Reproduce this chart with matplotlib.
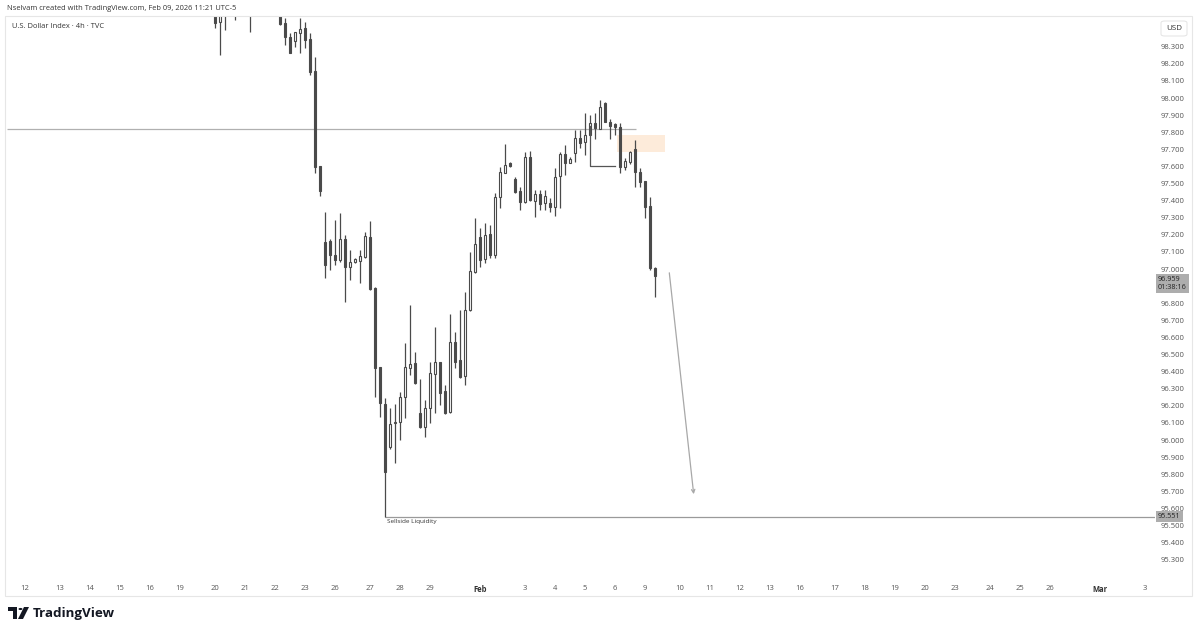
import matplotlib
matplotlib.use("Agg")
import matplotlib.pyplot as plt
from matplotlib.patches import Rectangle, FancyBboxPatch, Polygon, Circle
from matplotlib.transforms import blended_transform_factory
import numpy as np

plt.rcParams['font.family'] = ['Open Sans', 'DejaVu Sans']

# ---------------- data (4h candles, U.S. Dollar Index) ----------------
first_bar = 42
opens = [98.515, 98.444, 98.544, 98.58, 98.60, 98.57, 98.60, 98.58, 98.55, 98.60,
         98.64, 98.62, 98.58, 98.53, 98.439, 98.357, 98.333, 98.380, 98.409, 98.345,
         98.158, 97.602, 97.158, 97.164, 97.082, 97.053, 97.175, 97.012, 97.041, 97.047,
         97.070, 97.187, 96.889, 96.427, 96.211, 95.959, 96.099, 96.105, 96.251, 96.421,
         96.450, 96.158, 96.076, 96.187, 96.386, 96.456, 96.287, 96.164, 96.573, 96.468,
         96.374, 96.760, 96.982, 97.187, 97.058, 97.205, 97.082, 97.421, 97.561, 97.620,
         97.526, 97.456, 97.392, 97.655, 97.398, 97.439, 97.386, 97.386, 97.363, 97.544,
         97.673, 97.620, 97.678, 97.766, 97.743, 97.784, 97.854, 97.819, 97.971, 97.860,
         97.848, 97.830, 97.596, 97.626, 97.702, 97.567, 97.515, 97.368, 97.006]
highs = [98.544, 98.544, 98.60, 98.65, 98.63, 98.64, 98.63, 98.62, 98.63, 98.67,
         98.68, 98.65, 98.60, 98.56, 98.468, 98.380, 98.386, 98.468, 98.444, 98.380,
         98.240, 97.602, 97.333, 97.175, 97.287, 97.327, 97.199, 97.111, 97.064, 97.111,
         97.216, 97.281, 96.895, 96.427, 96.246, 96.187, 96.211, 96.281, 96.567, 96.789,
         96.515, 96.357, 96.234, 96.456, 96.661, 96.456, 96.322, 96.737, 96.632, 96.760,
         96.865, 97.099, 97.298, 97.240, 97.269, 97.257, 97.444, 97.596, 97.731, 97.626,
         97.538, 97.480, 97.684, 97.690, 97.462, 97.462, 97.462, 97.415, 97.591, 97.684,
         97.725, 97.655, 97.813, 97.813, 97.912, 97.901, 97.912, 97.988, 97.977, 97.877,
         97.854, 97.854, 97.649, 97.690, 97.754, 97.591, 97.515, 97.421, 97.012]
lows = [98.409, 98.251, 98.398, 98.55, 98.456, 98.53, 98.52, 98.386, 98.52, 98.57,
        98.58, 98.54, 98.50, 98.425, 98.310, 98.263, 98.298, 98.263, 98.292, 98.135,
        97.561, 97.427, 96.947, 96.994, 97.023, 97.041, 96.807, 96.936, 97.035, 96.918,
        97.064, 96.877, 96.251, 96.135, 95.551, 95.950, 95.865, 96.000, 96.129, 96.380,
        96.325, 96.070, 96.018, 96.099, 96.158, 96.205, 96.150, 96.158, 96.421, 96.365,
        96.322, 96.754, 96.977, 97.012, 97.035, 97.064, 97.064, 97.357, 97.561, 97.598,
        97.444, 97.345, 97.386, 97.400, 97.304, 97.345, 97.345, 97.333, 97.310, 97.357,
        97.550, 97.620, 97.626, 97.708, 97.667, 97.784, 97.760, 97.819, 97.860, 97.760,
        97.784, 97.561, 97.579, 97.614, 97.480, 97.480, 97.298, 96.994, 96.836]
closes = [98.439, 98.515, 98.573, 98.62, 98.57, 98.60, 98.58, 98.55, 98.60, 98.64,
          98.62, 98.58, 98.53, 98.433, 98.357, 98.263, 98.386, 98.404, 98.339, 98.152,
          97.596, 97.456, 97.023, 97.082, 97.053, 97.175, 97.012, 97.041, 97.058, 97.076,
          97.193, 96.883, 96.421, 96.216, 95.813, 96.094, 96.105, 96.251, 96.427, 96.444,
          96.333, 96.076, 96.187, 96.392, 96.456, 96.275, 96.158, 96.573, 96.456, 96.368,
          96.760, 96.988, 97.146, 97.053, 97.199, 97.082, 97.421, 97.567, 97.608, 97.602,
          97.450, 97.392, 97.655, 97.404, 97.439, 97.380, 97.427, 97.363, 97.538, 97.673,
          97.620, 97.643, 97.766, 97.737, 97.784, 97.854, 97.825, 97.947, 97.860, 97.836,
          97.830, 97.596, 97.632, 97.684, 97.567, 97.509, 97.363, 97.006, 96.959]

# date axis labels and the bar where each sits
day_labels = ['12', '13', '14', '15', '16', '19', '20', '21', '22', '23', '26', '27', '28', '29',
              'Feb', '3', '4', '5', '6', '9', '10', '11', '12', '13', '16', '17', '18', '19',
              '20', '23', '24', '25', '26', 'Mar', '3']
day_bars = [4, 11, 17, 23, 29, 35, 42, 48, 54, 60, 66, 73, 79, 85,
            95, 104, 110, 116, 122, 128, 135, 141, 147, 153, 159, 166, 172, 178,
            184, 190, 197, 203, 209, 219, 228]

price_ticks = [95.3, 95.4, 95.5, 95.6, 95.7, 95.8, 95.9, 96.0, 96.1, 96.2, 96.3, 96.4,
               96.5, 96.6, 96.7, 96.8, 97.0, 97.1, 97.2, 97.3, 97.4, 97.5, 97.6, 97.7,
               97.8, 97.9, 98.0, 98.1, 98.2, 98.3]

last_price = 96.959
countdown = '01:38:16'
liquidity_level = 95.551
resistance_level = 97.819
zone_low, zone_high = 97.684, 97.784
bracket_top, bracket_bottom = 97.836, 97.602
arrow_start, arrow_end = 96.994, 95.667

# ---------------- figure ----------------
W, H = 1200, 634
fig = plt.figure(figsize=(W / 100, H / 100), dpi=100)
fig.patch.set_facecolor('white')

def fx(px):
    return px / W

def fy(py):
    return 1 - py / H

ax = fig.add_axes([fx(7), fy(578), fx(1155) - fx(7), fy(17) - fy(578)])
ax.set_xlim(0.4, 230)
ax.set_ylim(95.193, 98.474)
for s in ax.spines.values():
    s.set_visible(False)

bars = np.arange(first_bar, first_bar + len(opens))
o = np.array(opens); h = np.array(highs); l = np.array(lows); c = np.array(closes)
up = c >= o
dark = '#4a4a4a'

ax.vlines(bars, l, h, color=dark, linewidth=0.9, zorder=3)
body_bottom = np.minimum(o, c)
body_h = np.maximum(np.abs(c - o), 0.004)
ax.bar(bars[up], body_h[up], bottom=body_bottom[up], width=0.58,
       color='white', edgecolor=dark, linewidth=0.8, zorder=4)
ax.bar(bars[~up], body_h[~up], bottom=body_bottom[~up], width=0.58,
       color=dark, edgecolor=dark, linewidth=0.8, zorder=4)

# drawings
ax.hlines(resistance_level, 0.4, 126.2, color='#b0b0b0', linewidth=0.9, zorder=2)
ax.add_patch(Rectangle((122.4, zone_low), 9.6, zone_high - zone_low,
                       facecolor='#fde8d4', edgecolor='none', alpha=0.85, zorder=1))
ax.plot([117, 117, 122], [bracket_top, bracket_bottom, bracket_bottom],
        color='#555555', linewidth=0.9, zorder=5)
ax.hlines(liquidity_level, 76, 230, color='#9a9a9a', linewidth=0.9, zorder=2)
ax.text(76.4, liquidity_level - 0.012, 'Sellside Liquidity', fontsize=4.6,
        color='#333333', va='top', ha='left')
ax.annotate('', xy=(137.8, arrow_end), xytext=(132.8, arrow_start),
            arrowprops=dict(arrowstyle='->', color='#a8a8a8', lw=0.9,
                            mutation_scale=6))

# axes ticks
ax.yaxis.tick_right()
ax.set_yticks(price_ticks)
ax.set_yticklabels([f'{v:.3f}' for v in price_ticks])
ax.tick_params(axis='y', length=0, pad=4, labelsize=5.5, labelcolor='#555555')
ax.set_xticks(day_bars)
ax.set_xticklabels(day_labels)
ax.tick_params(axis='x', length=0, pad=5, labelsize=5.5, labelcolor='#555555')
for t in ax.get_xticklabels():
    if t.get_text() in ('Feb', 'Mar'):
        t.set_fontweight('bold')
        t.set_color('#333333')

# price scale labels (boxes)
tr = blended_transform_factory(ax.transAxes, ax.transData)
ax.text(1.0027, last_price - 0.001, f'{last_price:.3f}\n{countdown}', transform=tr,
        fontsize=5.2, color='#222222', va='top', ha='left', linespacing=1.15,
        bbox=dict(boxstyle='square,pad=0.25', facecolor='#adadad', edgecolor='none'),
        zorder=10, clip_on=False)
ax.text(1.0027, liquidity_level, f'{liquidity_level:.3f}', transform=tr,
        fontsize=5.2, color='#222222', va='center', ha='left',
        bbox=dict(boxstyle='square,pad=0.25', facecolor='#adadad', edgecolor='none'),
        zorder=10, clip_on=False)

# header and titles
fig.text(fx(7), fy(9), 'Nselvam created with TradingView.com, Feb 09, 2026 11:21 UTC-5',
         fontsize=5.45, color='#333333', va='center', ha='left')
fig.text(fx(12), fy(27), 'U.S. Dollar Index · 4h · TVC', fontsize=5.4,
         color='#333333', va='center', ha='left')

# chart frame
fig.add_artist(Rectangle((fx(5), fy(596)), fx(1192) - fx(5), fy(16) - fy(596),
                         transform=fig.transFigure, fill=False,
                         edgecolor='#e6e6e6', linewidth=0.8))
fig.add_artist(FancyBboxPatch((fx(1161), fy(36)), fx(26), fy(21) - fy(36),
                              boxstyle='round,pad=0,rounding_size=0.003',
                              transform=fig.transFigure, facecolor='white',
                              edgecolor='#e3e3e3', linewidth=0.7))
fig.text(fx(1174), fy(28.5), 'USD', fontsize=5.8, color='#333333', va='center', ha='center')

# TradingView logo
logo_c = '#131722'
fig.add_artist(Polygon([(fx(8), fy(607)), (fx(17), fy(607)), (fx(17), fy(619)),
                        (fx(13), fy(619)), (fx(13), fy(611)), (fx(8), fy(611))],
                       closed=True, transform=fig.transFigure, facecolor=logo_c,
                       edgecolor='none'))
fig.add_artist(Circle((fx(20.5), fy(609)), 2.0 / W, transform=fig.transFigure,
                      facecolor=logo_c, edgecolor='none'))
fig.add_artist(Polygon([(fx(24), fy(607)), (fx(29), fy(607)), (fx(23), fy(619)),
                        (fx(18), fy(619))], closed=True, transform=fig.transFigure,
                       facecolor=logo_c, edgecolor='none'))
fig.text(fx(33), fy(613), 'TradingView', fontsize=9.6, fontweight='bold',
         color=logo_c, va='center', ha='left')

fig.savefig('out.png', dpi=100, facecolor='white')
